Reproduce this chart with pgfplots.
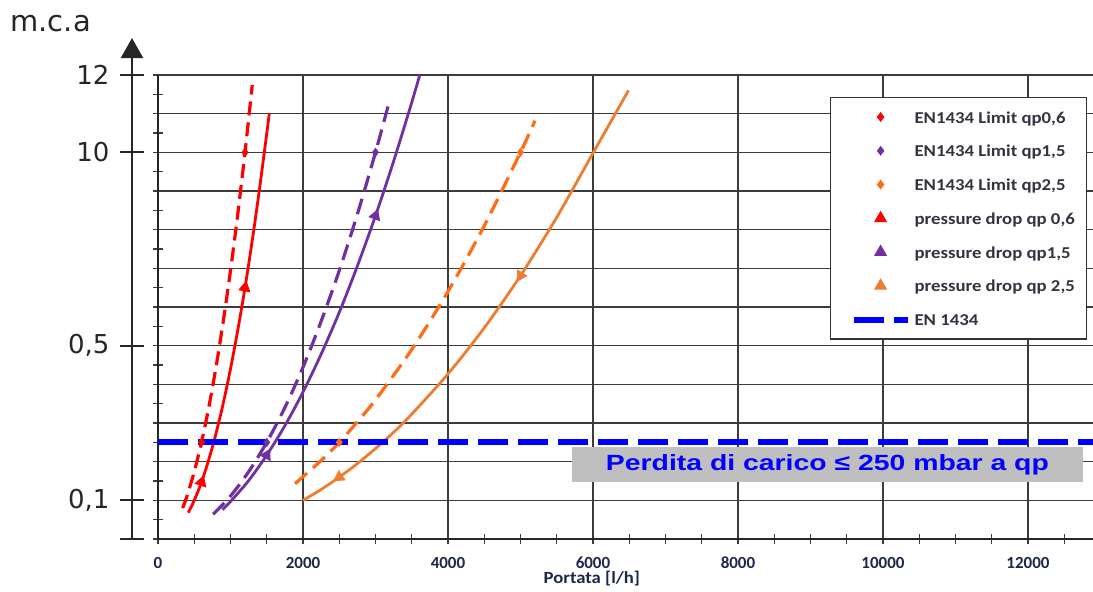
\documentclass[border=0pt]{standalone}
\usepackage{pgfplots}
\pgfplotsset{compat=1.18}
\usetikzlibrary{arrows.meta}
\usepackage{fontspec}
\setmainfont{Liberation Sans}
\newfontfamily\carlitoL[FakeStretch=1.13]{Carlito}
\newfontfamily\carlitoT{Carlito}
\newfontfamily\carlitoX[FakeStretch=1.1]{Carlito}
\newfontfamily\arialW[FakeStretch=1.29]{Liberation Sans}
\newfontfamily\dejavu{DejaVu Sans}
\definecolor{cred}{RGB}{255,0,0}
\definecolor{cpurple}{RGB}{112,48,160}
\definecolor{corangeL}{RGB}{255,108,20}
\definecolor{corange}{RGB}{237,125,49}
\definecolor{cblue}{RGB}{0,0,255}
\definecolor{tickcol}{RGB}{30,38,75}
\definecolor{legcol}{RGB}{50,52,64}
\definecolor{gridcol}{RGB}{60,60,60}
\begin{document}
\begin{tikzpicture}
\path[use as bounding box] (0,0) rectangle (546.5pt,295.5pt);
\node[anchor=west, font=\dejavu\fontsize{14.5}{16}\selectfont, text=black!85, inner sep=0pt] at (5pt,283.5pt) {m.c.a};
% outer y axis with labels
\begin{axis}[
  at={(66pt,26pt)}, anchor=south west,
  scale only axis, width=10pt, height=232pt,
  xmin=0, xmax=1, ymin=0, ymax=12,
  axis x line=none, axis y line*=left,
  y axis line style={line width=0.9pt, black!85, -{Triangle[width=11pt,length=10pt]}, shorten >=-18.5pt},
  ytick={0,1,5,10,12}, yticklabels={,0{,}1,0{,}5,10,12},
  tick align=center, major tick length=11.5pt,
  ytick style={line width=0.9pt, black!85},
  yticklabel style={font=\dejavu\fontsize{13}{15}\selectfont, text=black!85, xshift=-2pt},
]
\addplot[draw=none, forget plot] coordinates {(0,0)};
\end{axis}
% main axis
\begin{axis}[
  at={(79pt,26pt)}, anchor=south west,
  scale only axis, width=467.5pt, height=232pt,
  xmin=0, xmax=12897, ymin=0, ymax=12,
  axis x line*=bottom, axis y line*=left,
  axis line style={line width=0.8pt, black!85},
  scaled x ticks=false, scaled y ticks=false,
  xtick={0,2000,4000,6000,8000,10000,12000},
  xticklabels={0,2000,4000,6000,8000,10000,12000},
  minor xtick={500,1000,1500,2500,3000,3500,4500,5000,5500,6500,7000,7500,8500,9000,9500,10500,11000,11500,12500},
  ytick={0,1,2,3,4,5,6,7,8,9,10,11,12},
  yticklabels={,,,,,,,,,,,,},
  minor ytick={0.5,1.5,2.5,3.5,4.5,5.5,6.5,7.5,8.5,9.5,10.5,11.5},
  tick align=center, major tick length=5pt, minor tick length=5pt,
  every tick/.style={line width=0.7pt, gridcol},
  grid=major,
  major grid style={line width=0.8pt, gridcol},
  xticklabel style={font=\carlitoT\bfseries\fontsize{8.5}{10}\selectfont, text=tickcol, yshift=-3pt},
  xlabel={Portata [l/h]},
  xlabel style={at={(axis description cs:0.464,0)}, anchor=center, yshift=-20pt, font=\carlitoX\bfseries\fontsize{8.5}{10}\selectfont, text=tickcol},
  legend image code/.code={\path[draw=none, fill=none] (0pt,-2pt) rectangle (34.5pt,2pt); \draw[mark repeat=2,mark phase=2,#1] plot coordinates {(7.5pt,0pt) (21pt,0pt) (34.5pt,0pt)};},
  legend style={at={(0.7187,0.9526)}, anchor=north west, draw=black!80, line width=0.6pt, fill=white,
    font=\carlitoL\bfseries\fontsize{8.3}{10}\selectfont, text=legcol,
    inner xsep=4pt, inner ysep=2.3pt, row sep=2.05pt,
    nodes={text height=1.6ex, text depth=0.45ex}},
  legend cell align=left,
]
% EN1434 limit curves (dashed)
\addplot[forget plot, cred, line width=1.6pt, dash pattern=on 7pt off 3.5pt, smooth] coordinates {
 (340,0.80) (400,1.11) (500,1.74) (600,2.5) (700,3.40) (800,4.44) (900,5.63) (1000,6.94) (1100,8.40) (1200,10.0) (1300,11.74)};
\addplot[forget plot, cpurple, line width=1.6pt, dash pattern=on 8pt off 4pt, smooth] coordinates {
 (760,0.64) (1000,1.11) (1250,1.74) (1500,2.5) (1750,3.40) (2000,4.44) (2250,5.63) (2500,6.94) (2750,8.40) (3000,10.0) (3200,11.38)};
\addplot[forget plot, corangeL, line width=1.6pt, dash pattern=on 8pt off 4pt, smooth] coordinates {
 (1890,1.43) (2250,2.03) (2500,2.5) (2750,3.03) (3000,3.6) (3500,4.9) (4000,6.4) (4500,8.1) (5000,10.0) (5200,10.82)};
% pressure drop curves (solid)
\addplot[forget plot, cred, line width=1.4pt, smooth] coordinates {
 (418,0.68) (500,1.0) (600,1.47) (700,2.05) (800,2.73) (900,3.51) (1000,4.40) (1100,5.40) (1200,6.50) (1300,7.72) (1400,9.05) (1500,10.49) (1535,11.0)};
\addplot[forget plot, cpurple, line width=1.4pt, smooth] coordinates {
 (890,0.76) (1000,0.97) (1250,1.51) (1500,2.17) (1750,2.93) (2000,3.80) (2250,4.78) (2500,5.86) (2750,7.06) (3000,8.36) (3250,9.77) (3500,11.29) (3610,12.0)};
\addplot[forget plot, corange, line width=1.4pt, smooth] coordinates {
 (2000,1.0) (2250,1.28) (2500,1.60) (2750,1.95) (3000,2.34) (3250,2.76) (3500,3.23) (4000,4.27) (4500,5.46) (5000,6.81) (5500,8.32) (6000,9.98) (6490,11.6)};
% EN 1434 line
\addplot[forget plot, cblue, line width=3pt, dash pattern=on 15pt off 5pt] coordinates {(0,2.5) (12897,2.5)};
% diamonds
\addplot[forget plot, only marks, mark=diamond*, mark size=2pt, cred] coordinates {(600,2.5) (1200,10)};
\addplot[forget plot, only marks, mark=diamond*, mark size=2pt, cpurple] coordinates {(1500,2.5) (3000,10)};
\addplot[forget plot, only marks, mark=diamond*, mark size=2pt, corangeL] coordinates {(2500,2.5) (5000,10)};
% triangles
\addplot[forget plot, only marks, mark=triangle*, mark size=3.2pt, cred, mark options={rotate=-18}] coordinates {(600,1.47)};
\addplot[forget plot, only marks, mark=triangle*, mark size=3.2pt, cred, mark options={rotate=-10}] coordinates {(1200,6.5)};
\addplot[forget plot, only marks, mark=triangle*, mark size=3.2pt, cpurple, mark options={rotate=-28}] coordinates {(1500,2.17)};
\addplot[forget plot, only marks, mark=triangle*, mark size=3.2pt, cpurple, mark options={rotate=-20}] coordinates {(3000,8.36)};
\addplot[forget plot, only marks, mark=triangle*, mark size=3.2pt, corange, mark options={rotate=124}] coordinates {(2500,1.60)};
\addplot[forget plot, only marks, mark=triangle*, mark size=3.2pt, corange, mark options={rotate=148}] coordinates {(5000,6.81)};
% annotation
\node[fill=black!25, minimum width=255.5pt, minimum height=17.5pt, inner sep=0pt, text=cblue,
  font=\arialW\bfseries\fontsize{11}{13}\selectfont] at (axis cs:9234,1.93) {Perdita di carico ≤ 250 mbar a qp};
% legend
\addlegendimage{only marks, mark=diamond*, mark size=2pt, cred}
\addlegendentry{EN1434 Limit qp0,6}
\addlegendimage{only marks, mark=diamond*, mark size=2pt, cpurple}
\addlegendentry{EN1434 Limit qp1,5}
\addlegendimage{only marks, mark=diamond*, mark size=2pt, corangeL}
\addlegendentry{EN1434 Limit qp2,5}
\addlegendimage{only marks, mark=triangle*, mark size=3.2pt, cred}
\addlegendentry{pressure drop qp 0,6}
\addlegendimage{only marks, mark=triangle*, mark size=3.2pt, cpurple}
\addlegendentry{pressure drop qp1,5}
\addlegendimage{only marks, mark=triangle*, mark size=3.2pt, corange}
\addlegendentry{pressure drop qp 2,5}
\addlegendimage{cblue, line width=3pt, dash pattern=on 15pt off 5pt}
\addlegendentry{EN 1434}
\end{axis}
\end{tikzpicture}
\end{document}
